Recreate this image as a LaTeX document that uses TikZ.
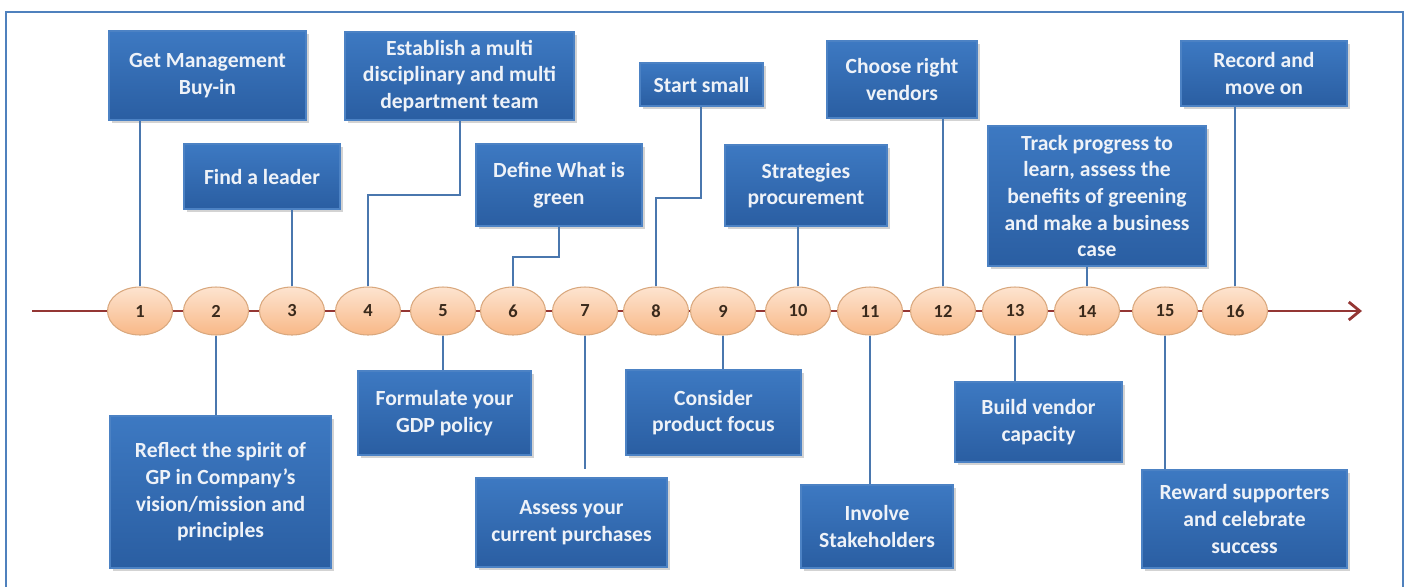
\documentclass[tikz,border=0pt]{standalone}
\usepackage{fontspec}
\setmainfont{Carlito}
\usetikzlibrary{shadows,arrows.meta,shapes.geometric}
\definecolor{framec}{HTML}{4F81BD}
\definecolor{boxtop}{HTML}{3D79C2}
\definecolor{boxbot}{HTML}{2A5EA2}
\definecolor{boxedge}{HTML}{4C82C4}
\definecolor{boxtext}{HTML}{EEF2F8}
\definecolor{conncol}{HTML}{4A77AE}
\definecolor{linecol}{HTML}{943634}
\definecolor{elltop}{HTML}{FDE4D0}
\definecolor{ellbot}{HTML}{F8B887}
\definecolor{elledge}{HTML}{D9A87E}
\definecolor{numcol}{HTML}{3A2A1C}
\tikzset{
  gbox/.style={rectangle, inner sep=0pt, top color=boxtop, bottom color=boxbot,
    draw=boxedge, line width=0.6pt, text=boxtext, align=center,
    font=\fontsize{12.3}{15.2}\selectfont\bfseries,
    drop shadow={shadow xshift=0.06cm, shadow yshift=-0.06cm, opacity=0.35}},
  span/.style n args={4}{minimum width={(#3-#1)*0.02cm}, minimum height={(#4-#2)*0.02cm},
    at={(0.5*#1+0.5*#3, 0.5*#2+0.5*#4)}},
  numell/.style={ellipse, minimum width=1.3cm, minimum height=0.96cm, inner sep=0pt,
    top color=elltop, bottom color=ellbot, draw=elledge, line width=0.6pt,
    text=numcol, font=\fontsize{10.5}{12}\selectfont\bfseries},
  conn/.style={draw=conncol, line width=1.3pt},
  tline/.style={draw=linecol, line width=1.6pt},
  frm/.style={draw=framec, line width=1.2pt}
}
\begin{document}
\begin{tikzpicture}[x=0.02cm,y=-0.02cm]
\useasboundingbox (0,0) rectangle (1407,586);
\draw[frm] (6,12) rectangle (1403,620);

% timeline
\coordinate (tstart) at (32,311);
\coordinate (tend) at (1362,311);
\draw[tline, -{Straight Barb[length=0.22cm,width=0.36cm]}] (tstart) -- (tend);

% ellipses
\foreach \n/\x in {1/140,2/216,3/292,4/368,5/443,6/513,7/585,8/656,9/723,10/798,11/870,12/943,13/1015,14/1087,15/1165,16/1235}{
  \node[numell] (e\n) at (\x,311) {\n};
}

% boxes
\node[gbox, span={109}{31}{306}{120}] (b1) {Get Management\\Buy-in};
\node[gbox, span={110}{416}{331}{568}] (b2) {Reflect the spirit of\\GP in Company’s\\vision/mission and\\principles};
\node[gbox, span={184}{144}{340}{209}] (b3) {Find a leader};
\node[gbox, span={345}{32}{574}{120}] (b4) {Establish a multi\\disciplinary and multi\\department team};
\node[gbox, span={358}{371}{531}{455}] (b5) {Formulate your\\GDP policy};
\node[gbox, span={476}{144}{642}{226}] (b6) {Define What is\\green};
\node[gbox, span={476}{478}{667}{567}] (b7) {Assess your\\current purchases};
\node[gbox, span={640}{63}{763}{106}] (b8) {Start small};
\node[gbox, span={626}{370}{801}{455}] (b9) {Consider\\product focus};
\node[gbox, span={725}{145}{887}{226}] (b10) {Strategies\\procurement};
\node[gbox, span={801}{485}{953}{568}] (b11) {Involve\\Stakeholders};
\node[gbox, span={827}{41}{977}{118}] (b12) {Choose right\\vendors};
\node[gbox, span={955}{382}{1122}{462}] (b13) {Build vendor\\capacity};
\node[gbox, span={988}{126}{1206}{266}] (b14) {Track progress to\\learn, assess the\\benefits of greening\\and make a business\\case};
\node[gbox, span={1142}{470}{1347}{568}] (b15) {Reward supporters\\and celebrate\\success};
\node[gbox, span={1181}{41}{1347}{106}] (b16) {Record and\\move on};

% elbow points
\coordinate (k4) at (460,195);
\coordinate (k6) at (559,257);
\coordinate (k8) at (701,198);

% connectors (above)
\foreach \n in {1,3,10,12,14,16}{
  \draw[conn] (e\n.north) -- (e\n.north |- b\n.south);
}
\draw[conn] (e4.north) |- (k4) -- (k4 |- b4.south);
\draw[conn] (e6.north) |- (k6) -- (k6 |- b6.south);
\draw[conn] (e8.north) |- (k8) -- (k8 |- b8.south);
% connectors (below)
\foreach \n in {2,5,9,11,13,15}{
  \draw[conn] (e\n.south) -- (e\n.south |- b\n.north);
}
\draw[conn, shorten >=0.16cm] (e7.south) -- (e7.south |- b7.north);
\end{tikzpicture}
\end{document}
